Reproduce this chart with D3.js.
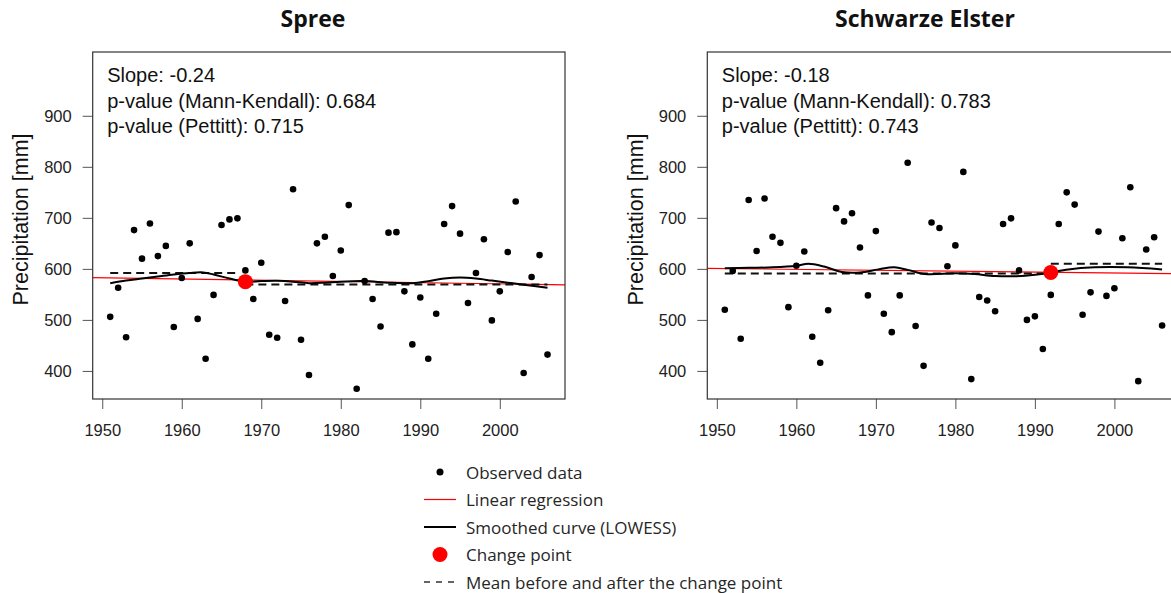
<!DOCTYPE html>
<html>
<head>
<meta charset="utf-8">
<script src="https://cdn.jsdelivr.net/npm/d3@7"></script>
<style>
  body { margin: 0; background: #fff; }
  svg { display: block; }
  .axis text { font-family: "Liberation Sans", Arial, sans-serif; font-size: 16.5px; fill: #222; }
  .axis line { stroke: #555; }
</style>
</head>
<body>
<svg id="chart" width="1171" height="593"></svg>
<script>
// data
const years = d3.range(1951, 2007);
const spreeValues = [506, 563, 466, 676, 620, 689, 625, 645, 486, 582, 650, 502, 424, 549, 686, 697, 699, 597,
  541, 612, 471, 465, 537, 756, 461, 392, 650, 663, 586, 636, 725, 365, 576, 541, 487, 671, 672, 556,
  452, 544, 424, 512, 688, 723, 669, 533, 592, 658, 499, 556, 633, 732, 396, 584, 627, 432];
const elsterValues = [520, 596, 463, 735, 635, 738, 663, 651, 525, 606, 634, 467, 416, 519, 719, 693, 709, 642,
  548, 674, 512, 476, 548, 808, 488, 410, 691, 680, 605, 646, 790, 384, 545, 538, 517, 688, 699, 597,
  500, 507, 443, 549, 688, 750, 726, 510, 554, 673, 547, 562, 660, 760, 380, 638, 662, 489];

const spreeLowessYears = [1951, 1953, 1955, 1957, 1959, 1961, 1962.7, 1964, 1966, 1968, 1970, 1972, 1974, 1976,
  1978, 1980, 1983, 1986, 1989, 1991, 1993, 1995, 1997, 1999, 2001, 2003, 2006];
const spreeLowess = [572, 577, 581, 585, 589, 592, 593, 589, 581, 575, 576, 576.5, 575, 572,
  573, 575, 576, 573, 572, 576, 581, 583, 581, 577, 573, 569, 563];
const elsterLowessYears = [1951, 1954, 1957, 1960, 1961.5, 1963.5, 1965.7, 1968, 1970.3, 1972.3, 1974, 1976.2,
  1980, 1982.4, 1985, 1988.3, 1990.8, 1992, 1994.2, 1997.5, 2001.7, 2006];
const elsterLowess = [601, 602, 603, 606, 610, 604.5, 594, 593, 599, 603, 598, 590,
  591.5, 590, 586, 586, 590, 593, 599, 603, 603, 599];

const panelTitles = ['Spree', 'Schwarze Elster'];
const slopes = [-0.24, -0.18];
const regAt1950 = [582.7, 600.8];
const pMannKendall = ['0.684', '0.783'];
const pPettitt = ['0.715', '0.743'];
const changeYears = [1968, 1992];
const changeValues = [575, 593];

const xTicks = [1950, 1960, 1970, 1980, 1990, 2000];
const yTicks = [400, 500, 600, 700, 800, 900];
const legendLabels = ['Observed data', 'Linear regression', 'Smoothed curve (LOWESS)', 'Change point',
  'Mean before and after the change point'];

const svg = d3.select('#chart');

// plot box constants
const boxLeft = 92.7, boxW = 472.3, boxTop = 52, boxBottom = 399;
const panelShift = 614.6;
const titleX = [313, 925];

const x = d3.scaleLinear().domain([1948.8, 2008.2]).range([0, boxW]);
const y = d3.scaleLinear().domain([345, 1025]).range([boxBottom, boxTop]);

const panels = [
  { values: spreeValues, lowYears: spreeLowessYears, low: spreeLowess },
  { values: elsterValues, lowYears: elsterLowessYears, low: elsterLowess }
];

panels.forEach((p, i) => {
  const g = svg.append('g').attr('transform', `translate(${boxLeft + i * panelShift},0)`);
  const data = years.map((yr, k) => ({ year: yr, value: p.values[k] }));

  // title
  svg.append('text')
    .attr('x', titleX[i]).attr('y', 27)
    .attr('text-anchor', 'middle')
    .style('font-family', '"Open Sans", sans-serif')
    .style('font-weight', 700).style('font-size', '23px').style('fill', '#111')
    .text(panelTitles[i]);

  // axes
  g.append('g').attr('class', 'axis')
    .attr('transform', `translate(0,${boxBottom})`)
    .call(d3.axisBottom(x).tickValues(xTicks).tickFormat(d3.format('d')).tickSize(10).tickPadding(15))
    .call(a => a.select('.domain').remove());
  g.append('g').attr('class', 'axis')
    .call(d3.axisLeft(y).tickValues(yTicks).tickSize(10).tickPadding(11))
    .call(a => a.select('.domain').remove());

  g.append('text')
    .attr('transform', `translate(${21 - boxLeft},${(boxTop + boxBottom) / 2 - 6}) rotate(-90)`)
    .attr('text-anchor', 'middle').attr('dominant-baseline', 'central')
    .style('font-family', '"Liberation Sans", Arial, sans-serif').style('font-size', '21.5px').style('fill', '#111')
    .text('Precipitation [mm]');

  // clip
  g.append('clipPath').attr('id', 'clip' + i)
    .append('rect').attr('x', 0).attr('y', boxTop).attr('width', boxW).attr('height', boxBottom - boxTop);
  const plot = g.append('g').attr('clip-path', `url(#clip${i})`);

  // regression line
  const reg = yr => regAt1950[i] + slopes[i] * (yr - 1950);
  const xd = x.domain();
  plot.append('line')
    .attr('x1', x(xd[0])).attr('y1', y(reg(xd[0])))
    .attr('x2', x(xd[1])).attr('y2', y(reg(xd[1])))
    .attr('stroke', '#ff0000').attr('stroke-width', 1.2);

  // means before / after the change point
  const before = data.filter(d => d.year < changeYears[i]);
  const after = data.filter(d => d.year >= changeYears[i]);
  [before, after].forEach(seg => {
    const m = d3.mean(seg, d => d.value);
    plot.append('line')
      .attr('x1', x(seg[0].year)).attr('x2', x(seg[seg.length - 1].year))
      .attr('y1', y(m)).attr('y2', y(m))
      .attr('stroke', '#111').attr('stroke-width', 2).attr('stroke-dasharray', '8,5');
  });

  // lowess
  const lowData = p.lowYears.map((yr, k) => [yr, p.low[k]]);
  plot.append('path').datum(lowData)
    .attr('d', d3.line().x(d => x(d[0])).y(d => y(d[1])).curve(d3.curveCatmullRom))
    .attr('fill', 'none').attr('stroke', '#000').attr('stroke-width', 2);

  // observed points
  plot.selectAll('circle.obs').data(data).join('circle')
    .attr('class', 'obs')
    .attr('cx', d => x(d.year)).attr('cy', d => y(d.value))
    .attr('r', 3.3).attr('fill', '#000');

  // change point
  plot.append('circle')
    .attr('cx', x(changeYears[i])).attr('cy', y(changeValues[i]))
    .attr('r', 7.5).attr('fill', '#ff0000');

  // box
  g.append('rect')
    .attr('x', 0).attr('y', boxTop).attr('width', boxW).attr('height', boxBottom - boxTop)
    .attr('fill', 'none').attr('stroke', '#333').attr('stroke-width', 1.2);

  // stats text
  const stats = [`Slope: ${slopes[i]}`, `p-value (Mann-Kendall): ${pMannKendall[i]}`, `p-value (Pettitt): ${pPettitt[i]}`];
  g.selectAll('text.stat').data(stats).join('text')
    .attr('class', 'stat')
    .attr('x', 14.5).attr('y', (d, k) => 82 + k * 25.5)
    .style('font-family', '"Liberation Sans", Arial, sans-serif').style('font-size', '20px').style('fill', '#111')
    .text(d => d);
});

// legend
const legend = svg.append('g').attr('transform', 'translate(424,472)');
const rowH = 27.5;
legendLabels.forEach((lab, k) => {
  const row = legend.append('g').attr('transform', `translate(0,${k * rowH})`);
  if (k === 0) row.append('circle').attr('cx', 16).attr('cy', 0).attr('r', 3.5).attr('fill', '#000');
  if (k === 1) row.append('line').attr('x1', 0).attr('x2', 32).attr('stroke', '#ff0000').attr('stroke-width', 1.2);
  if (k === 2) row.append('line').attr('x1', 0).attr('x2', 32).attr('stroke', '#000').attr('stroke-width', 2);
  if (k === 3) row.append('circle').attr('cx', 16).attr('cy', 0).attr('r', 7.5).attr('fill', '#ff0000');
  if (k === 4) row.append('line').attr('x1', 0).attr('x2', 32).attr('stroke', '#333')
    .attr('stroke-width', 1.5).attr('stroke-dasharray', '6,6');
  row.append('text')
    .attr('x', 42).attr('y', 0).attr('dominant-baseline', 'central')
    .style('font-family', '"Open Sans", sans-serif').style('font-size', '17px').style('fill', '#262626')
    .text(lab);
});
</script>
</body>
</html>
